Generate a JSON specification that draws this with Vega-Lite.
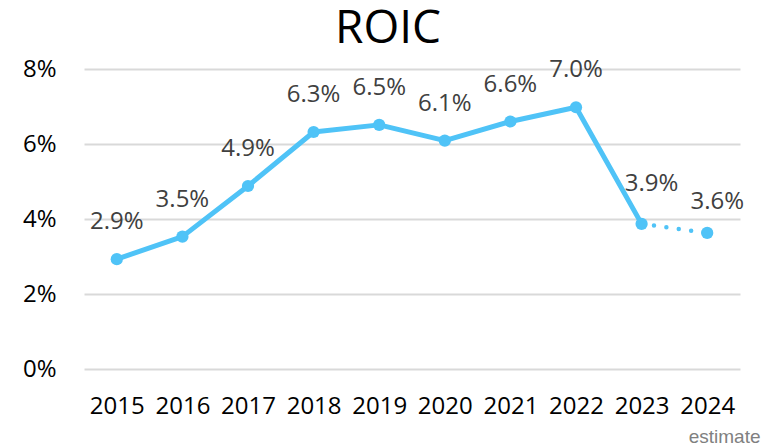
{
  "$schema": "https://vega.github.io/schema/vega-lite/v6.json",
  "autosize": "none",
  "width": 656,
  "height": 300,
  "padding": {"left": 84, "top": 69, "right": 36, "bottom": 79},
  "background": "white",
  "title": {
    "text": "ROIC",
    "font": "Open Sans",
    "fontSize": 46,
    "fontWeight": "normal",
    "color": "#000000",
    "anchor": "middle",
    "dx": -24,
    "offset": -32,
    "baseline": "alphabetic"
  },
  "config": {
    "view": {"stroke": null},
    "font": "Open Sans"
  },
  "data": {
    "values": [
      {"year": "2015", "value": 2.93, "label": "2.9%", "kind": "actual"},
      {"year": "2016", "value": 3.53, "label": "3.5%", "kind": "actual"},
      {"year": "2017", "value": 4.88, "label": "4.9%", "kind": "actual"},
      {"year": "2018", "value": 6.32, "label": "6.3%", "kind": "actual"},
      {"year": "2019", "value": 6.51, "label": "6.5%", "kind": "actual"},
      {"year": "2020", "value": 6.09, "label": "6.1%", "kind": "actual"},
      {"year": "2021", "value": 6.6, "label": "6.6%", "kind": "actual"},
      {"year": "2022", "value": 6.98, "label": "7.0%", "kind": "actual"},
      {"year": "2023", "value": 3.87, "label": "3.9%", "kind": "actual"},
      {"year": "2024", "value": 3.63, "label": "3.6%", "kind": "estimate"}
    ]
  },
  "encoding": {
    "x": {
      "field": "year",
      "type": "ordinal",
      "scale": {"type": "point", "padding": 0.5},
      "axis": {
        "title": "estimate",
        "titleAnchor": "end",
        "titleAlign": "right",
        "titleX": 676,
        "titleY": 73,
        "titleBaseline": "alphabetic",
        "titleFont": "Liberation Sans",
        "titleFontSize": 19,
        "titleFontWeight": "normal",
        "titleColor": "#808080",
        "labelAngle": 0,
        "labelFont": "Open Sans",
        "labelFontSize": 24,
        "labelColor": "#000000",
        "labelPadding": 25,
        "labelBaseline": "top",
        "domain": false,
        "ticks": false,
        "grid": false
      }
    },
    "y": {
      "field": "value",
      "type": "quantitative",
      "scale": {"domain": [0, 8], "nice": false},
      "axis": {
        "title": null,
        "values": [0, 2, 4, 6, 8],
        "labelExpr": "datum.value + '%'",
        "labelFont": "Open Sans",
        "labelFontSize": 24,
        "labelColor": "#000000",
        "labelPadding": 28,
        "domain": false,
        "ticks": false,
        "gridColor": "#d9d9d9",
        "gridWidth": 2
      }
    }
  },
  "layer": [
    {
      "transform": [{"filter": "datum.kind == 'actual'"}],
      "mark": {"type": "line", "color": "#4FC3F7", "strokeWidth": 5, "strokeCap": "round", "strokeJoin": "round"}
    },
    {
      "transform": [{"filter": "datum.year == '2023' || datum.year == '2024'"}],
      "mark": {"type": "line", "color": "#4FC3F7", "strokeWidth": 4.5, "strokeCap": "round", "strokeDash": [0, 12.5]}
    },
    {
      "mark": {"type": "point", "filled": true, "opacity": 1, "color": "#4FC3F7", "size": 150}
    },
    {
      "transform": [{"filter": "datum.year != '2023' && datum.year != '2024'"}],
      "mark": {"type": "text", "font": "Open Sans", "fontSize": 24, "color": "#404040", "baseline": "alphabetic", "dy": -30},
      "encoding": {"text": {"field": "label"}}
    },
    {
      "transform": [{"filter": "datum.year == '2023'"}],
      "mark": {"type": "text", "font": "Open Sans", "fontSize": 24, "color": "#404040", "baseline": "alphabetic", "dx": 10, "dy": -33},
      "encoding": {"text": {"field": "label"}}
    },
    {
      "transform": [{"filter": "datum.year == '2024'"}],
      "mark": {"type": "text", "font": "Open Sans", "fontSize": 24, "color": "#404040", "baseline": "alphabetic", "dx": 10, "dy": -24},
      "encoding": {"text": {"field": "label"}}
    }
  ]
}
